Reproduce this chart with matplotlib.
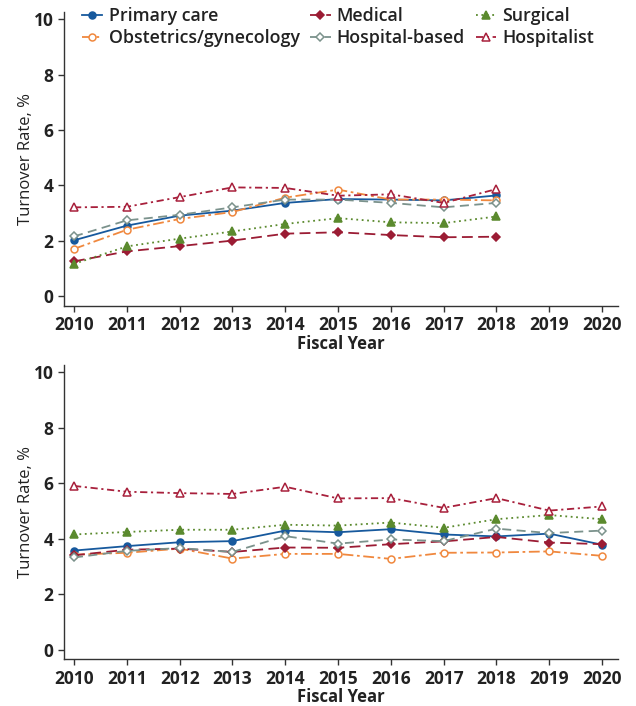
import matplotlib
matplotlib.use("Agg")
import matplotlib.pyplot as plt

plt.rcParams['font.family'] = ['Open Sans', 'DejaVu Sans']

years_top = [2010, 2011, 2012, 2013, 2014, 2015, 2016, 2017, 2018]
years_bot = [2010, 2011, 2012, 2013, 2014, 2015, 2016, 2017, 2018, 2019, 2020]
xticks = list(range(2010, 2021))
yticks = [0, 2, 4, 6, 8, 10]

top_primary = [2.02, 2.55, 2.91, 3.09, 3.37, 3.51, 3.49, 3.46, 3.64]
top_obgyn = [1.71, 2.40, 2.79, 3.04, 3.56, 3.85, 3.49, 3.49, 3.46]
top_medical = [1.26, 1.62, 1.81, 2.01, 2.26, 2.31, 2.21, 2.13, 2.15]
top_hospbased = [2.16, 2.74, 2.94, 3.21, 3.49, 3.49, 3.37, 3.21, 3.37]
top_surgical = [1.17, 1.80, 2.08, 2.34, 2.61, 2.82, 2.67, 2.64, 2.88]
top_hospitalist = [3.21, 3.23, 3.58, 3.93, 3.91, 3.63, 3.68, 3.37, 3.87]

bot_primary = [3.57, 3.73, 3.87, 3.91, 4.29, 4.23, 4.34, 4.15, 4.08, 4.18, 3.78]
bot_obgyn = [3.42, 3.49, 3.64, 3.28, 3.45, 3.45, 3.27, 3.49, 3.50, 3.54, 3.38]
bot_medical = [3.40, 3.60, 3.64, 3.52, 3.68, 3.67, 3.80, 3.90, 4.06, 3.86, 3.80]
bot_hospbased = [3.32, 3.56, 3.66, 3.52, 4.09, 3.82, 3.97, 3.91, 4.36, 4.20, 4.29]
bot_surgical = [4.15, 4.24, 4.32, 4.32, 4.50, 4.47, 4.58, 4.39, 4.70, 4.85, 4.70]
bot_hospitalist = [5.90, 5.69, 5.64, 5.61, 5.87, 5.45, 5.46, 5.11, 5.46, 5.01, 5.16]

names = ["Primary care", "Obstetrics/gynecology", "Medical", "Hospital-based", "Surgical", "Hospitalist"]

styles = {
    "Primary care": dict(color="#17599d", ls="-", marker="o", mfc="#17599d"),
    "Obstetrics/gynecology": dict(color="#f0883e", ls=(0, (6, 2, 1.5, 2)), marker="o", mfc="white"),
    "Medical": dict(color="#9b1c34", ls=(0, (6, 3)), marker="D", mfc="#9b1c34"),
    "Hospital-based": dict(color="#7b928c", ls=(0, (5, 3)), marker="D", mfc="white"),
    "Surgical": dict(color="#5b8a2e", ls=(0, (1, 2)), marker="^", mfc="#5b8a2e"),
    "Hospitalist": dict(color="#a8203c", ls=(0, (4, 2, 1.2, 2)), marker="^", mfc="white"),
}
msizes = {"o": 5, "D": 4, "^": 5.5}

fig = plt.figure(figsize=(6.36, 7.06), dpi=100)
ax1 = fig.add_axes([0.1006, 0.5666, 0.871, 0.4164])
ax2 = fig.add_axes([0.1006, 0.0661, 0.871, 0.417])

top_data = [top_primary, top_obgyn, top_medical, top_hospbased, top_surgical, top_hospitalist]
bot_data = [bot_primary, bot_obgyn, bot_medical, bot_hospbased, bot_surgical, bot_hospitalist]

for ax, yrs, data in [(ax1, years_top, top_data), (ax2, years_bot, bot_data)]:
    for name, vals in zip(names, data):
        s = styles[name]
        ax.plot(yrs, vals, color=s["color"], linestyle=s["ls"], marker=s["marker"],
                markerfacecolor=s["mfc"], markeredgecolor=s["color"], markeredgewidth=1.1,
                markersize=msizes[s["marker"]], linewidth=1.3, label=name)
    ax.set_xlim(2009.81, 2020.30)
    ax.set_ylim(-0.35, 10.26)
    ax.set_xticks(xticks)
    ax.set_yticks(yticks)
    ax.spines['top'].set_visible(False)
    ax.spines['right'].set_visible(False)
    for sp in ['left', 'bottom']:
        ax.spines[sp].set_color('#333333')
        ax.spines[sp].set_linewidth(1.0)
    ax.tick_params(axis='both', direction='out', length=4, width=1, color='#333333',
                   labelsize=12.5, labelcolor='#222222')
    for lab in ax.get_xticklabels() + ax.get_yticklabels():
        lab.set_fontweight('bold')
    ax.set_ylabel("Turnover Rate, %", fontsize=12, color='#222222', labelpad=0)
    ax.set_xlabel("Fiscal Year", fontsize=12, fontweight='bold', color='#222222', labelpad=0.5)

leg = ax1.legend(loc='upper left', ncol=3, frameon=False, fontsize=12.8,
                 bbox_to_anchor=(0.013, 1.052), handlelength=1.15, handletextpad=0.35,
                 columnspacing=0.6, labelspacing=0.2, borderaxespad=0.2, borderpad=0.4)
for t in leg.get_texts():
    t.set_fontweight('semibold')
    t.set_color('#222222')

fig.savefig("out.png", dpi=100)
